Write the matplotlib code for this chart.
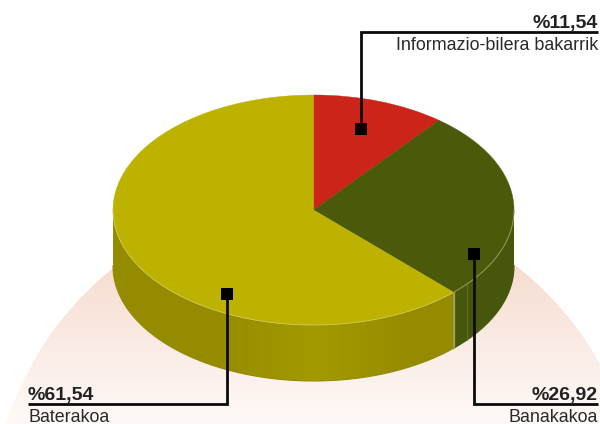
import numpy as np
import matplotlib
matplotlib.use("Agg")
import matplotlib.pyplot as plt
from matplotlib.colors import LinearSegmentedColormap
from matplotlib.patches import Circle, Polygon, Wedge
from matplotlib.transforms import Affine2D

# Data
categories = ["Informazio-bilera bakarrik", "Banakakoa", "Baterakoa"]
values = [11.54, 26.92, 61.54]
value_labels = ["%11,54", "%26,92", "%61,54"]

# Style
top_colors = ["#cc2419", "#4a5a0a", "#bdb200"]
side_dark = ["#cc2419", "#46560a", "#958b00"]
side_light = ["#cc2419", "#4c5c0b", "#a39a00"]

W, H = 600, 424
cx, cy, rx, ry, depth = 313.5, 210, 200.5, 115, 56
foreshorten = 4.2  # perspective drawing pulls the side boundaries slightly

plt.rcParams["font.family"] = ["Liberation Sans", "DejaVu Sans"]
fig = plt.figure(figsize=(W / 100, H / 100), dpi=100)
ax = fig.add_axes([0, 0, 1, 1])

# Backdrop disc with vertical fade
grad = LinearSegmentedColormap.from_list("fade", ["#f7dcd0", "#fefaf8"])
im = ax.imshow(np.linspace(0, 1, 256).reshape(-1, 1), cmap=grad, aspect="auto",
               extent=[0, W, H, 262], zorder=1)
disc = Circle((316, 522), 325, transform=ax.transData, fc="none", ec="none")
ax.add_patch(disc)
im.set_clip_path(disc)


def warp(t):
    return t - foreshorten * np.sin(np.radians(t))


def rim(t):
    r = np.radians(t)
    return cx + rx * np.sin(r), cy - ry * np.cos(r)


edges = warp(np.concatenate([[0], np.cumsum(values) / sum(values) * 360]))

# Side wall: a horizontal shade clipped to each slice's outline
for i in range(len(values)):
    lo, hi = max(edges[i], 90), min(edges[i + 1], 270)
    if hi <= lo:
        continue
    tt = np.linspace(lo, hi, 240)
    px, py = rim(tt)
    outline = np.vstack([np.column_stack([px, py]),
                         np.column_stack([px[::-1], py[::-1] + depth])])
    cmap = LinearSegmentedColormap.from_list(
        "wall", [side_dark[i], side_dark[i], side_light[i], side_dark[i], side_dark[i]])
    wall = ax.imshow(np.linspace(0, 1, 401).reshape(1, -1), cmap=cmap, aspect="auto",
                     extent=[cx - rx, cx + rx, H, 0], zorder=2)
    shape = Polygon(outline, transform=ax.transData, fc="none", ec="none")
    ax.add_patch(shape)
    wall.set_clip_path(shape)
    # smooth the clipped lower edge
    mid = len(px) // 2
    ax.plot(px, py + depth, color=side_dark[i], lw=0.8, zorder=3)

# Light seams on the wall near the slice boundary
xs, ys = rim(edges[2])
ax.plot([xs, xs], [ys, ys + depth], color="#a3a76c", lw=0.9, zorder=3)
ax.plot([xs + 13, xs + 13], [ys - 8, ys - 8 + depth], color="#66733a", lw=0.6, zorder=3)

# Top face
squash = Affine2D().translate(-cx, -cy).scale(1, -ry / rx).translate(cx, cy) + ax.transData
for i in range(len(values)):
    ax.add_patch(Wedge((cx, cy), rx, 90 - edges[i + 1], 90 - edges[i], fc=top_colors[i],
                       ec=top_colors[i], lw=0.3, transform=squash, zorder=4))

# Light line along the front rim
tt = np.linspace(90, 270, 200)
px, py = rim(tt)
mask_g = tt <= edges[2]
ax.plot(px[mask_g], py[mask_g], color="#8f9a5c", lw=0.7, zorder=5)
ax.plot(px[~mask_g], py[~mask_g], color="#cfc659", lw=0.6, zorder=5)

# Leaders and markers
anchors = [(361, 129), (473.5, 254), (227, 294)]
elbows = [(361, 32), (473.5, 404), (227, 404)]
ends = [(598, 32), (598, 404), (28, 404)]
for a, e, n in zip(anchors, elbows, ends):
    ax.plot([a[0], e[0], n[0]], [a[1], e[1], n[1]], color="#0a0a0a", lw=2.0,
            solid_joinstyle="miter", solid_capstyle="butt", zorder=6)
    ax.add_patch(plt.Rectangle((a[0] - 6, a[1] - 6), 12, 12, fc="black", ec="none", zorder=7))

# Labels
for v, c, n in zip(value_labels, categories, ends):
    ha = "right" if n[0] > W / 2 else "left"
    ax.text(n[0], n[1] - 4, v, ha=ha, va="baseline", fontsize=14, fontweight="bold",
            color="#222222", zorder=8)
    ax.text(n[0], n[1] + 18, c, ha=ha, va="baseline", fontsize=12.9, color="#2a2a2a", zorder=8)

ax.set_xlim(0, W)
ax.set_ylim(H, 0)
ax.axis("off")
fig.savefig("out.png", dpi=100)
